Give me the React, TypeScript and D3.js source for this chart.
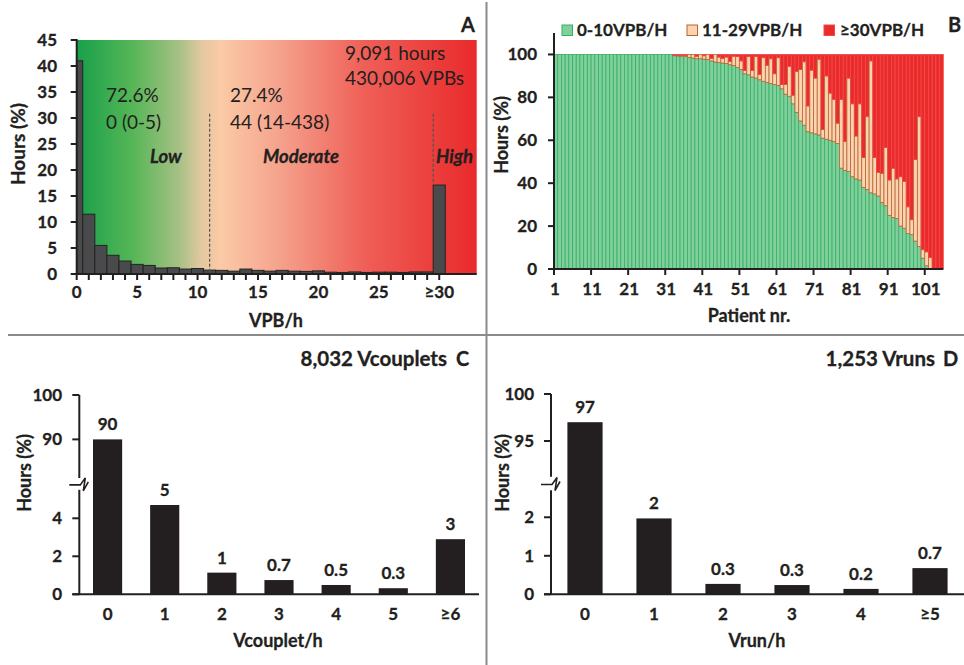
import React from 'react';
import { scaleLinear, scaleBand } from 'd3';

const W = 964;
const H = 665;
const FONT = "Lato, 'Liberation Sans', sans-serif";
const INK = '#231f20';

// ---- panel A: distribution of VPB/h ----
const vpbBins = [0, 1, 2, 3, 4, 5, 6, 7, 8, 9, 10, 11, 12, 13, 14, 15, 16, 17, 18, 19, 20, 21, 22, 23, 24, 25, 26, 27, 28, 29, 30];
const vpbHours = [41, 11.5, 5.5, 3.6, 2.5, 1.85, 1.65, 1.15, 1.2, 0.95, 1.05, 0.75, 0.7, 0.55, 0.95, 0.7, 0.55, 0.7, 0.55, 0.5, 0.6, 0.35, 0.3, 0.4, 0.3, 0.35, 0.35, 0.3, 0.4, 0.4, 17.1];
const vpbTickValues = [0, 5, 10, 15, 20, 25, 30];
const vpbTickLabels = ['0', '5', '10', '15', '20', '25', '≥30'];
const hoursTicksA = [0, 5, 10, 15, 20, 25, 30, 35, 40, 45];
const lowCut = 11;
const highCut = 29.5;

// ---- panel B: share of hours per patient ----
const lowShare = [
  100, 100, 100, 100, 100, 100, 100, 100, 100, 100, 100, 100, 100, 100, 100, 100,
  100, 100, 100, 100, 100, 100, 100, 100, 100, 100, 100, 100, 100, 100, 100, 100,
  99.4, 99.3, 99.2, 99, 98.6, 98.3, 98, 98, 97.8, 97.6, 97, 96.5, 96.2, 96, 95.8, 95.2,
  94.8, 94, 93, 91, 90.5, 89.5, 89, 88.2, 87.5, 87, 86.5, 86, 85.5, 84, 81.5, 80.5, 77,
  73, 69, 67, 64, 63.5, 63, 62.5, 61, 60.5, 60, 59.5, 58.5, 47, 46, 45.5, 43, 42, 41.5,
  38, 37, 35.5, 35, 34, 31, 29.5, 25, 24, 23.5, 20, 19, 16.5, 16, 13, 10.5, 5, 1.5, 0.3, 0, 0, 0,
];
const midShare = [
  0, 0, 0, 0, 0, 0, 0, 0, 0, 0, 0, 0, 0, 0, 0, 0,
  0, 0, 0, 0, 0, 0, 0, 0, 0, 0, 0, 0, 0, 0, 0, 0,
  0, 0.2, 0.3, 0.5, 1.4, 1.7, 1.2, 2, 1.6, 2.4, 1.2, 3.5, 2.6, 2.2, 3, 1.6,
  4.4, 5, 4, 1.5, 8.5, 3, 10, 2.5, 11, 8, 11.5, 5, 13, 2, 4.5, 14, 4,
  19, 24, 29.6, 12, 29.2, 26, 35.3, 4, 29.5, 22, 19.5, 9.5, 32, 13.5, 43.5, 34, 20, 35.5,
  14, 34, 61.5, 17, 11, 13.6, 27.1, 16.5, 23, 18.5, 23, 21.8, 12.5, 7, 38, 60.5, 4, 6.5, 5.1, 0, 0, 0,
];
const highShare = [
  0, 0, 0, 0, 0, 0, 0, 0, 0, 0, 0, 0, 0, 0, 0, 0,
  0, 0, 0, 0, 0, 0, 0, 0, 0, 0, 0, 0, 0, 0, 0, 0,
  0.6, 0.5, 0.5, 0.5, 0, 0, 0.8, 0, 0.6, 0, 1.8, 0, 1.2, 1.8, 1.2, 3.2,
  0.8, 1, 3, 7.5, 1, 7.5, 1, 9.3, 1.5, 5, 2, 9, 1.5, 14, 14, 5.5, 19,
  8, 7, 3.4, 24, 7.3, 11, 2.2, 35, 10, 18, 21, 32, 21, 40.5, 11, 23, 38, 23,
  48, 29, 3, 48, 55, 55.4, 43.4, 58.5, 53, 58, 57, 59.2, 71, 77, 49, 29, 91, 92, 94.6, 100, 100, 100,
];
const patientTicks = [1, 11, 21, 31, 41, 51, 61, 71, 81, 91, 101];
const shareTicks = [0, 20, 40, 60, 80, 100];
const legendLabels = ['0-10VPB/H', '11-29VPB/H', '≥30VPB/H'];

// ---- panel C: couplets ----
const coupletCats = ['0', '1', '2', '3', '4', '5', '≥6'];
const coupletHours = [90, 4.7, 1.14, 0.75, 0.49, 0.32, 2.9];
const coupletLabels = ['90', '5', '1', '0.7', '0.5', '0.3', '3'];

// ---- panel D: runs ----
const runCats = ['0', '1', '2', '3', '4', '≥5'];
const runHours = [97, 1.97, 0.27, 0.24, 0.14, 0.68];
const runLabels = ['97', '2', '0.3', '0.3', '0.2', '0.7'];

const seriesStyle = [
  { fill: '#80cf9c', stroke: '#35b064' },
  { fill: '#fbd3b1', stroke: '#b9642f' },
  { fill: '#ea2a2b', stroke: '#f04a48' },
];

// bold text a bit heavier, closer to the original's Calibri bold
const bold = { fontFamily: FONT, fontWeight: 700, fontSize: 17, fill: INK, stroke: INK, strokeWidth: 0.3 };
const axisTitle = { ...bold, fontSize: 18 };

function PanelA() {
  const x = scaleLinear().domain([0, 33.1]).range([76.7, 476.7]);
  const y = scaleLinear().domain([0, 45]).range([274, 40]);
  const note = { fontFamily: FONT, fontSize: 19, fill: INK };
  const zone = { ...bold, fontStyle: 'italic', fontSize: 18.5 };
  return (
    <g>
      <defs>
        <linearGradient id="vpbGrad" x1="0" x2="1" y1="0" y2="0">
          <stop offset="0" stopColor="#17a04a" />
          <stop offset="0.14" stopColor="#56b657" />
          <stop offset="0.26" stopColor="#a9c187" />
          <stop offset="0.31" stopColor="#e2c8a0" />
          <stop offset="0.36" stopColor="#fbcaa6" />
          <stop offset="0.5" stopColor="#f5a48e" />
          <stop offset="0.72" stopColor="#ef5f57" />
          <stop offset="1" stopColor="#e92a2b" />
        </linearGradient>
      </defs>
      <rect x={x(0)} y={y(45)} width={x(33.1) - x(0)} height={y(0) - y(45)} fill="url(#vpbGrad)" />
      {vpbBins.map((b, i) => {
        const x0 = x(Math.max(0, b - 0.5));
        const x1 = x(b + 0.5);
        return (
          <rect key={b} x={x0} y={y(vpbHours[i])} width={x1 - x0} height={y(0) - y(vpbHours[i])}
            fill="#4a4a4c" stroke="#232323" strokeWidth={1} />
        );
      })}
      <line x1={x(lowCut)} x2={x(lowCut)} y1={y(30.8)} y2={y(0)} stroke="#555" strokeWidth={1.2} strokeDasharray="3,2" />
      <line x1={x(highCut)} x2={x(highCut)} y1={y(30.8)} y2={y(vpbHours[30])} stroke="#555" strokeWidth={1.2} strokeDasharray="3,2" />

      <line x1={x(0)} x2={x(0)} y1={39} y2={y(0)} stroke={INK} strokeWidth={2} />
      <line x1={x(0)} x2={x(33.1)} y1={y(0)} y2={y(0)} stroke={INK} strokeWidth={2} />
      {hoursTicksA.map(t => (
        <g key={t}>
          <line x1={x(0) - 6} x2={x(0)} y1={y(t)} y2={y(t)} stroke={INK} strokeWidth={2} />
          <text x={57} y={y(t) + 6} textAnchor="end" style={bold}>{t}</text>
        </g>
      ))}
      {vpbBins.map(b => (
        <line key={b} x1={x(b)} x2={x(b)} y1={y(0)} y2={y(0) + 6} stroke={INK} strokeWidth={2} />
      ))}
      {vpbTickValues.map((t, i) => (
        <text key={t} x={x(t)} y={298} textAnchor="middle" style={bold}>{vpbTickLabels[i]}</text>
      ))}
      <text x={276} y={327} textAnchor="middle" style={axisTitle}>VPB/h</text>
      <text transform="translate(25,144) rotate(-90)" textAnchor="middle" style={{ ...axisTitle, fontSize: 19 }}>Hours (%)</text>

      <text x={106} y={102} style={note}>72.6%</text>
      <text x={106} y={129} style={note}>0 (0-5)</text>
      <text x={230} y={102} style={note}>27.4%</text>
      <text x={230} y={129} style={note}>44 (14-438)</text>
      <text x={345} y={60} style={note}>9,091 hours</text>
      <text x={345} y={85} style={note}>430,006 VPBs</text>
      <text x={150} y={163} style={zone}>Low</text>
      <text x={263} y={163} style={zone}>Moderate</text>
      <text x={436} y={163} style={zone}>High</text>
      <text x={461} y={32} style={{ ...bold, fontSize: 20 }}>A</text>
    </g>
  );
}

function PanelB() {
  const patients = lowShare.map((_, i) => i + 1);
  const x = scaleLinear().domain([1, 106]).range([554, 943.3]);
  const y = scaleLinear().domain([0, 110]).range([269, 33]);
  const legendX = [[562, 577], [687, 702], [824, 840]];
  return (
    <g>
      {patients.map((p, i) => {
        const parts = [lowShare[i], midShare[i], highShare[i]];
        let acc = 0;
        return (
          <g key={p}>
            {parts.map((v, k) => {
              const y0 = acc;
              acc += v;
              if (v <= 0) return null;
              return (
                <rect key={k} x={x(p)} y={y(y0 + v)} width={x(p + 1) - x(p)} height={y(y0) - y(y0 + v)}
                  fill={seriesStyle[k].fill} stroke={seriesStyle[k].stroke} strokeWidth={0.8} />
              );
            })}
          </g>
        );
      })}
      <line x1={x(1)} x2={x(1)} y1={y(110)} y2={y(0)} stroke={INK} strokeWidth={2} />
      <line x1={x(1)} x2={x(106)} y1={y(0)} y2={y(0)} stroke={INK} strokeWidth={2} />
      {shareTicks.map(t => (
        <g key={t}>
          <line x1={x(1) - 6} x2={x(1)} y1={y(t)} y2={y(t)} stroke={INK} strokeWidth={2} />
          <text x={537} y={y(t) + 6} textAnchor="end" style={bold}>{t}</text>
        </g>
      ))}
      {patientTicks.map(t => (
        <g key={t}>
          <line x1={x(t)} x2={x(t)} y1={y(0)} y2={y(0) + 6} stroke={INK} strokeWidth={2} />
          <text x={x(t) + 1} y={295} textAnchor="middle" style={bold}>{t}</text>
        </g>
      ))}
      <text x={749} y={322} textAnchor="middle" style={axisTitle}>Patient nr.</text>
      <text transform="translate(508,135) rotate(-90)" textAnchor="middle" style={axisTitle}>Hours (%)</text>
      {legendLabels.map((l, i) => (
        <g key={l}>
          <rect x={legendX[i][0]} y={25} width={10.5} height={10.5} fill={seriesStyle[i].fill} stroke={seriesStyle[i].stroke} strokeWidth={1} />
          <text x={legendX[i][1]} y={36} style={bold}>{l}</text>
        </g>
      ))}
      <text x={948} y={32} style={{ ...bold, fontSize: 20 }}>B</text>
    </g>
  );
}

type BrokenProps = {
  cats: string[]; values: number[]; labels: string[];
  x0: number; x1: number; axisX: number;
  low: [number, number]; lowPx: [number, number]; lowTicks: number[];
  high: [number, number]; highPx: [number, number]; highTicks: number[];
  title: string; titleX: number; letter: string; letterX: number;
  xLabel: string; xLabelX: number; yLabelX: number; tickRight: number;
};

function BrokenBars(props: BrokenProps) {
  const { cats, values, labels } = props;
  const x = scaleBand<string>().domain(cats).range([props.x0, props.x1]).paddingInner(0.49).paddingOuter(0.245);
  const yLow = scaleLinear().domain(props.low).range(props.lowPx);
  const yHigh = scaleLinear().domain(props.high).range(props.highPx);
  const yv = (v: number) => (v > props.low[1] ? yHigh(v) : yLow(v));
  const ax = props.axisX;
  const zy = (props.highPx[0] + props.lowPx[1]) / 2;
  return (
    <g>
      {cats.map((c, i) => (
        <g key={c}>
          <rect x={x(c)} y={yv(values[i])} width={x.bandwidth()} height={yLow(0) - yv(values[i])} fill={INK} />
          <text x={(x(c) as number) + x.bandwidth() / 2} y={yv(values[i]) - 9} textAnchor="middle" style={bold}>{labels[i]}</text>
          <text x={(x(c) as number) + x.bandwidth() / 2} y={620} textAnchor="middle" style={bold}>{c}</text>
        </g>
      ))}
      <line x1={ax} x2={ax} y1={props.highPx[1]} y2={props.highPx[0]} stroke={INK} strokeWidth={2} />
      <line x1={ax} x2={ax} y1={props.lowPx[1]} y2={props.lowPx[0]} stroke={INK} strokeWidth={2} />
      <path d={`M${ax - 10},${zy + 1} L${ax + 1},${zy + 1} L${ax + 6},${zy - 6} L${ax + 4},${zy + 7} L${ax + 9},${zy - 2}`}
        fill="none" stroke={INK} strokeWidth={1.6} />
      <line x1={ax - 7} x2={props.x1} y1={yLow(0)} y2={yLow(0)} stroke={INK} strokeWidth={2} />
      {props.lowTicks.map(t => (
        <g key={'l' + t}>
          <line x1={ax - 7} x2={ax} y1={yLow(t)} y2={yLow(t)} stroke={INK} strokeWidth={2} />
          <text x={props.tickRight} y={yLow(t) + 6} textAnchor="end" style={bold}>{t}</text>
        </g>
      ))}
      {props.highTicks.map(t => (
        <g key={'h' + t}>
          <line x1={ax - 7} x2={ax} y1={yHigh(t)} y2={yHigh(t)} stroke={INK} strokeWidth={2} />
          <text x={props.tickRight} y={yHigh(t) + 6} textAnchor="end" style={bold}>{t}</text>
        </g>
      ))}
      <text x={props.xLabelX} y={647} textAnchor="middle" style={axisTitle}>{props.xLabel}</text>
      <text transform={`translate(${props.yLabelX},473) rotate(-90)`} textAnchor="middle" style={axisTitle}>Hours (%)</text>
      <text x={props.titleX} y={366} textAnchor="end" style={{ ...bold, fontSize: 20.5 }}>{props.title}</text>
      <text x={props.letterX} y={366} style={{ ...bold, fontSize: 20 }}>{props.letter}</text>
    </g>
  );
}

export default function App() {
  return (
    <svg width={W} height={H} style={{ position: 'absolute', left: 0, top: 0, background: '#fff' }}>
      <rect width={W} height={H} fill="#fff" />
      <PanelA />
      <PanelB />
      <BrokenBars cats={coupletCats} values={coupletHours} labels={coupletLabels}
        x0={79} x1={479} axisX={79.3}
        low={[0, 5.5]} lowPx={[594.3, 489.8]} lowTicks={[0, 2, 4]}
        high={[81.3, 100]} highPx={[478, 395]} highTicks={[90, 100]}
        title="8,032 Vcouplets" titleX={447} letter="C" letterX={456}
        xLabel="Vcouplet/h" xLabelX={278} yLabelX={31} tickRight={62} />
      <BrokenBars cats={runCats} values={runHours} labels={runLabels}
        x0={550.5} x1={964.5} axisX={551}
        low={[0, 2.7]} lowPx={[594.3, 490.3]} lowTicks={[0, 1, 2]}
        high={[91.2, 100]} highPx={[476.7, 394]} highTicks={[95, 100]}
        title="1,253 Vruns" titleX={935} letter="D" letterX={943}
        xLabel="Vrun/h" xLabelX={757} yLabelX={509} tickRight={534} />
      <line x1={486.5} x2={486.5} y1={2} y2={H} stroke="#8a8a8a" strokeWidth={2} />
      <line x1={8} x2={W} y1={335} y2={335} stroke="#8a8a8a" strokeWidth={2} />
    </svg>
  );
}
